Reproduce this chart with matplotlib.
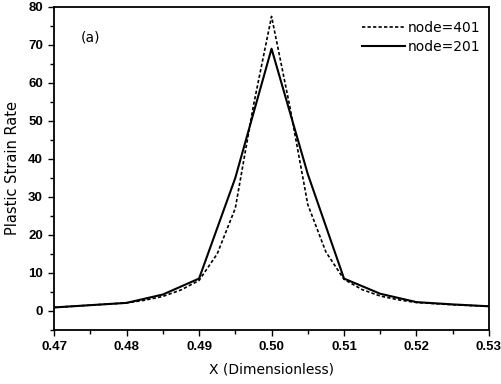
import matplotlib.pyplot as plt
from matplotlib.ticker import MultipleLocator

plt.rcParams['font.family'] = ['DejaVu Sans']

# node=401 (dotted), spacing 0.0025
x_401 = [0.47, 0.4725, 0.475, 0.4775, 0.48, 0.4825, 0.485, 0.4875, 0.49,
         0.4925, 0.495, 0.4975, 0.50, 0.5025, 0.505, 0.5075, 0.51,
         0.5125, 0.515, 0.5175, 0.52, 0.5225, 0.525, 0.5275, 0.53]
y_401 = [0.9, 1.2, 1.5, 1.8, 2.1, 2.8, 3.8, 5.5, 8.0,
         15.0, 27.0, 54.0, 77.5, 54.0, 28.0, 15.5, 8.3,
         5.6, 3.9, 2.9, 2.2, 1.9, 1.6, 1.4, 1.2]

# node=201 (solid), spacing 0.005
x_201 = [0.47, 0.475, 0.48, 0.485, 0.49, 0.495, 0.50, 0.505, 0.51,
         0.515, 0.52, 0.525, 0.53]
y_201 = [0.9, 1.5, 2.1, 4.3, 8.5, 35.0, 69.0, 36.0, 8.5,
         4.5, 2.3, 1.7, 1.2]

fig = plt.figure(figsize=(5.01, 3.84), dpi=100)
ax = fig.add_axes([0.108, 0.141, 0.868, 0.841])

ax.plot(x_401, y_401, color='black', lw=1.2, linestyle=(0, (2, 1.3)), label='node=401')
ax.plot(x_201, y_201, color='black', lw=1.5, linestyle='-', label='node=201')

ax.set_xlim(0.47, 0.53)
ax.set_ylim(-5, 80)
ax.xaxis.set_major_locator(MultipleLocator(0.01))
ax.xaxis.set_minor_locator(MultipleLocator(0.005))
ax.yaxis.set_major_locator(MultipleLocator(10))
ax.yaxis.set_minor_locator(MultipleLocator(5))
ax.xaxis.set_major_formatter(plt.FormatStrFormatter('%.2f'))

ax.tick_params(which='both', direction='out', top=False, right=False,
               width=1.0, labelsize=9.5)
ax.tick_params(which='major', length=4.5)
ax.tick_params(which='minor', length=2.8)
for lab in ax.get_xticklabels() + ax.get_yticklabels():
    lab.set_fontfamily('Liberation Sans')
    lab.set_fontweight('bold')
for s in ax.spines.values():
    s.set_linewidth(1.3)

ax.set_xlabel('X (Dimensionless)', fontsize=10, labelpad=7)
ax.set_ylabel('Plastic Strain Rate', fontsize=10.5, labelpad=6)

ax.text(0.4737, 72, '(a)', fontsize=10, va='center')

leg = ax.legend(loc='upper right', bbox_to_anchor=(1.0, 0.985), frameon=False,
                fontsize=10, handlelength=3.1, handletextpad=0.15,
                borderaxespad=0.25, labelspacing=0.35)

fig.savefig('out.png', dpi=100)
